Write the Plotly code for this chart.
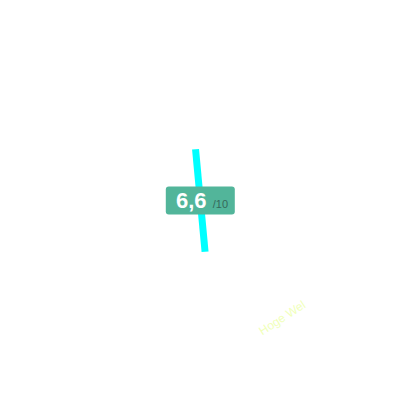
import math
import plotly.graph_objects as go

# values
score = 6.6
max_score = 10
score_text = "6,6"
label = "Hoge Wel"
needle_angle = -5.3   # degrees from vertical
needle_length = 103

# page body has an 8px margin, so the plot area starts at (8, 8)
cx, cy = 192.3, 192.5
dx = math.sin(math.radians(needle_angle)) * needle_length / 2
dy = math.cos(math.radians(needle_angle)) * needle_length / 2

fig = go.Figure()

# needle
fig.add_trace(go.Scatter(
    x=[cx - dx, cx + dx], y=[cy + dy, cy - dy],
    mode="lines", line=dict(color="#00ffff", width=7),
    hoverinfo="skip", showlegend=False,
))

# rounded badge behind the score
x0, x1, y0, y1, r = cx - 34.5, cx + 34.5, cy - 14, cy + 14, 3
path = (f"M{x0 + r},{y0} L{x1 - r},{y0} Q{x1},{y0} {x1},{y0 + r} "
        f"L{x1},{y1 - r} Q{x1},{y1} {x1 - r},{y1} L{x0 + r},{y1} "
        f"Q{x0},{y1} {x0},{y1 - r} L{x0},{y0 + r} Q{x0},{y0} {x0 + r},{y0} Z")
fig.add_shape(type="path", path=path, xref="x", yref="y",
              fillcolor="#52b59a", line=dict(width=0))

fig.add_annotation(
    x=cx + 2, y=cy, xref="x", yref="y", showarrow=False,
    text=(f"<b>{score_text}</b> <span style='font-size:11px;color:#35685a'>"
          f"/{max_score}</span>"),
    font=dict(family="Liberation Sans, Arial", size=22, color="#ffffff"),
)

# faint rotated label
fig.add_annotation(
    x=274, y=310, xref="x", yref="y", showarrow=False,
    text=label, textangle=-33, opacity=0.8,
    font=dict(family="Liberation Sans, Arial", size=12, color="#eeffaa"),
)

fig.update_xaxes(range=[0, 400], visible=False)
fig.update_yaxes(range=[400, 0], visible=False)
fig.update_layout(
    width=400, height=400, margin=dict(l=0, r=0, t=0, b=0),
    paper_bgcolor="white", plot_bgcolor="white",
)

fig.write_html("out.html")
